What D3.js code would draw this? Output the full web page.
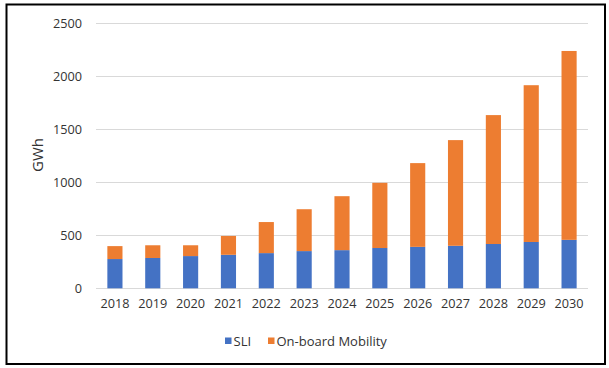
<!DOCTYPE html>
<html>
<head>
<meta charset="utf-8">
<script src="https://cdn.jsdelivr.net/npm/d3@7"></script>
<style>
  html, body { margin: 0; padding: 0; background: #fff; }
  svg { display: block; }
  text { font-family: "Open Sans", sans-serif; fill: #333; }
</style>
</head>
<body>
<svg id="chart" width="609" height="368"></svg>
<script>
const years = ["2018","2019","2020","2021","2022","2023","2024","2025","2026","2027","2028","2029","2030"];
const sli = [276, 286, 304, 316, 332, 351, 360, 380, 391, 401, 418, 437, 457];
const mobility = [122, 120, 102, 178, 293, 395, 509, 615, 790, 997, 1216, 1479, 1782];
const yTicks = [0, 500, 1000, 1500, 2000, 2500];
const seriesNames = ["SLI", "On-board Mobility"];
const colors = ["#4472C4", "#ED7D31"];

const svg = d3.select("#chart");

// outer frame
svg.append("rect")
  .attr("x", 6.5).attr("y", 4.5)
  .attr("width", 598.5).attr("height", 359.5)
  .attr("fill", "none").attr("stroke", "#000").attr("stroke-width", 2);

const x = d3.scaleBand().domain(years).range([96, 588]).paddingInner(0.6).paddingOuter(0.3);
const y = d3.scaleLinear().domain([0, 2500]).range([288.3, 23.3]);

// gridlines
svg.append("g").selectAll("line").data(yTicks).join("line")
  .attr("x1", 96).attr("x2", 588)
  .attr("y1", d => Math.round(y(d)) + 0.5).attr("y2", d => Math.round(y(d)) + 0.5)
  .attr("stroke", "#d9d9d9").attr("stroke-width", 1);

// y axis labels
const yAxis = d3.axisLeft(y).tickValues(yTicks).tickFormat(d3.format("d")).tickSize(0).tickPadding(0);
const gy = svg.append("g").attr("transform", "translate(82,0)").call(yAxis);
gy.select(".domain").remove();
gy.selectAll("text").attr("font-size", "12.7px").attr("fill", "#333")
  .style("font-family", "'Open Sans', sans-serif");

// stacked data
const table = years.map((yr, i) => ({ year: yr, SLI: sli[i], "On-board Mobility": mobility[i] }));
const stack = d3.stack().keys(seriesNames)(table);

svg.append("g").selectAll("g").data(stack).join("g")
  .attr("fill", (d, i) => colors[i])
  .selectAll("rect").data(d => d).join("rect")
  .attr("x", d => x(d.data.year))
  .attr("width", x.bandwidth())
  .attr("y", d => y(d[1]))
  .attr("height", d => y(d[0]) - y(d[1]));

// x axis
const xAxis = d3.axisBottom(x).tickSize(0).tickPadding(0);
const gx = svg.append("g").attr("transform", "translate(0,299)").call(xAxis);
gx.select(".domain").remove();
gx.selectAll("text").attr("font-size", "12.7px").attr("fill", "#333")
  .style("font-family", "'Open Sans', sans-serif");

// y axis title
svg.append("text")
  .attr("transform", "translate(43,155) rotate(-90)")
  .attr("text-anchor", "middle")
  .attr("font-size", "15px")
  .text("GWh");

// legend
const legend = svg.append("g");
const legendItems = [{ name: seriesNames[0], color: colors[0], x: 225 }, { name: seriesNames[1], color: colors[1], x: 268 }];
legendItems.forEach(it => {
  legend.append("rect").attr("x", it.x).attr("y", 337.5).attr("width", 6.5).attr("height", 6.5).attr("fill", it.color);
  legend.append("text").attr("x", it.x + 8.5).attr("y", 345.5).attr("font-size", "13px").text(it.name);
});
</script>
</body>
</html>
